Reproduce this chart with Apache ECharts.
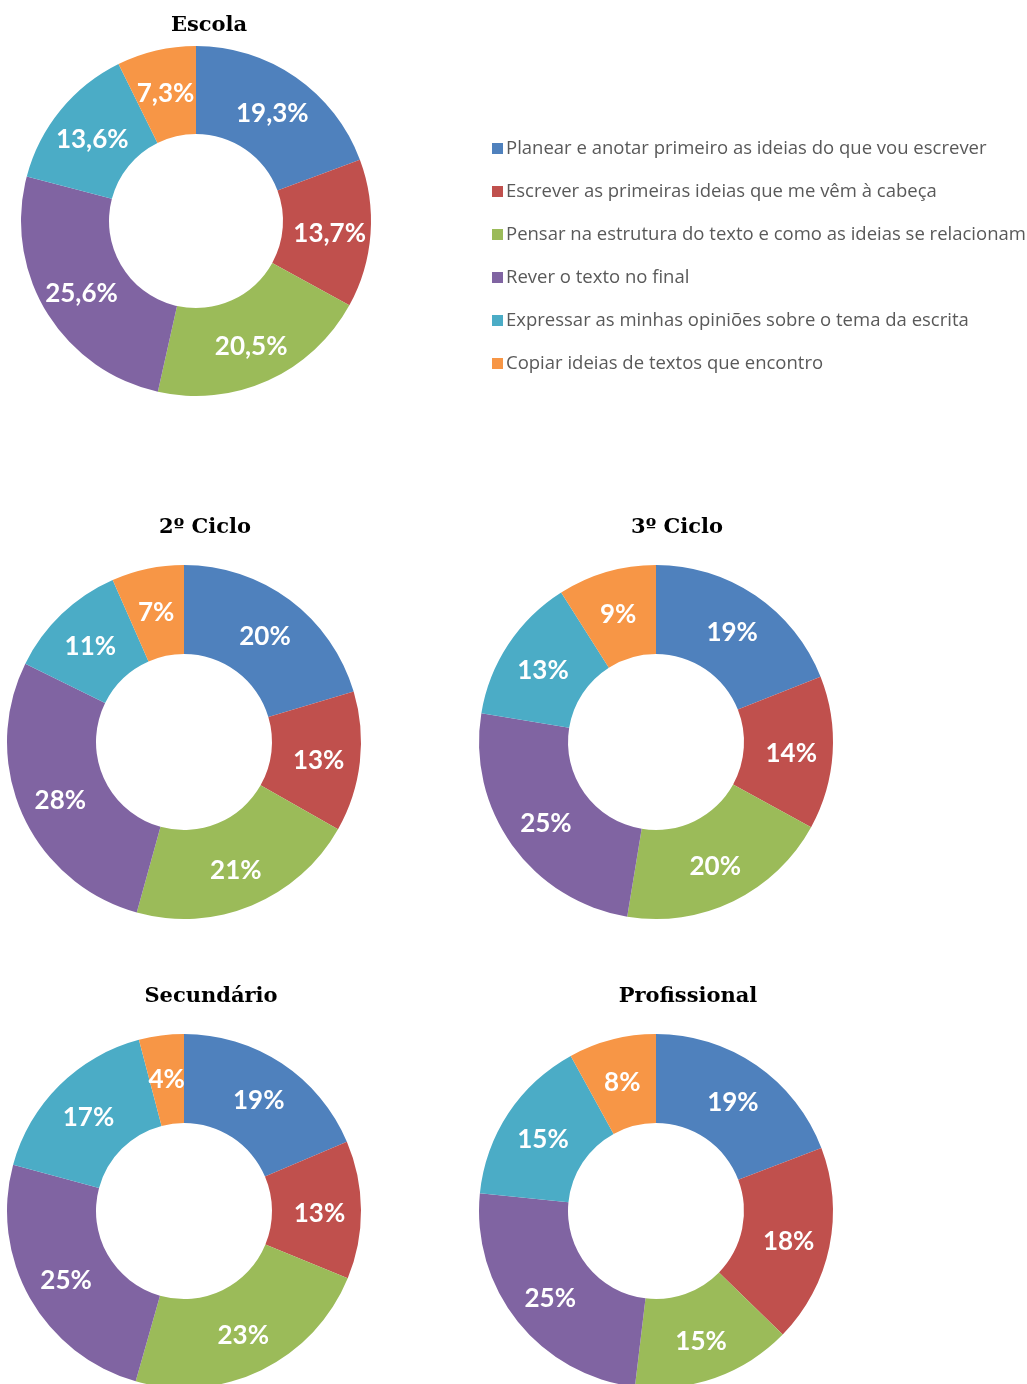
<!DOCTYPE html>
<html><head><meta charset="utf-8">
<script src="https://cdn.jsdelivr.net/npm/echarts@6/dist/echarts.min.js"></script>
<style>html,body{margin:0;padding:0;background:#fff}#c{width:1027px;height:1384px}</style>
</head><body><div id="c"></div>
<script>
const categories = [
  "Planear e anotar primeiro as ideias do que vou escrever",
  "Escrever as primeiras ideias que me vêm à cabeça",
  "Pensar na estrutura do texto e como as ideias se relacionam",
  "Rever o texto no final",
  "Expressar as minhas opiniões sobre o tema da escrita",
  "Copiar ideias de textos que encontro"
];
const colors = ["#4F81BD","#C0504D","#9BBB59","#8064A2","#4BACC6","#F79646"];
const escola = [19.3, 13.7, 20.5, 25.6, 13.6, 7.3];
const ciclo2 = [20.4, 12.8, 21.1, 28.0, 11.1, 6.6];
const ciclo3 = [19.0, 14.0, 19.6, 25.0, 13.4, 9.0];
const secundario = [18.6, 12.6, 23.2, 24.8, 16.7, 4.1];
const profissional = [19.2, 18.1, 14.6, 24.7, 15.4, 8.0];
const titles = ["Escola","2º Ciclo","3º Ciclo","Secundário","Profissional"];

const charts = [
  {name: titles[0], vals: escola, center:[196,221], r:[87,175], dec:1, title:[204,10]},
  {name: titles[1], vals: ciclo2, center:[184,742], r:[88,177], dec:0, title:[200,512]},
  {name: titles[2], vals: ciclo3, center:[656,742], r:[88,177], dec:0, title:[672,512]},
  {name: titles[3], vals: secundario, center:[184,1211], r:[88,177], dec:0, title:[206,981]},
  {name: titles[4], vals: profissional, center:[656,1211], r:[88,177], dec:0, title:[683,981]}
];

const chart = echarts.init(document.getElementById('c'));
chart.setOption({
  animation:false,
  color: colors,
  title: charts.map(c => ({
    text: c.name, left: c.title[0], top: c.title[1], textAlign:'center',
    textStyle:{fontFamily:'DejaVu Serif', fontWeight:'bold', fontSize:21, color:'#000'}
  })),
  legend: {
    orient:'vertical', left:487, top:134, itemWidth:11, itemHeight:11, itemGap:24,
    icon:'rect', data: categories,
    textStyle:{fontFamily:'Open Sans', fontSize:18.5, color:'#595959', padding:[0,0,0,-2]}
  },
  series: charts.map(c => ({
    type:'pie', name:c.name, center:c.center, radius:c.r, startAngle:90, clockwise:true,
    avoidLabelOverlap:false,
    label:{show:true, position:'inside', color:'#fff', fontFamily:'Lato', fontWeight:'bold', fontSize:26,
      formatter: p => (c.dec ? p.value.toFixed(1).replace('.', ',') : Math.round(p.value)) + '%'},
    labelLayout:{dy:3},
    labelLine:{show:false},
    emphasis:{disabled:true},
    itemStyle:{borderWidth:0},
    data: c.vals.map((v,i) => ({name:categories[i], value:v}))
  }))
});
</script></body></html>
